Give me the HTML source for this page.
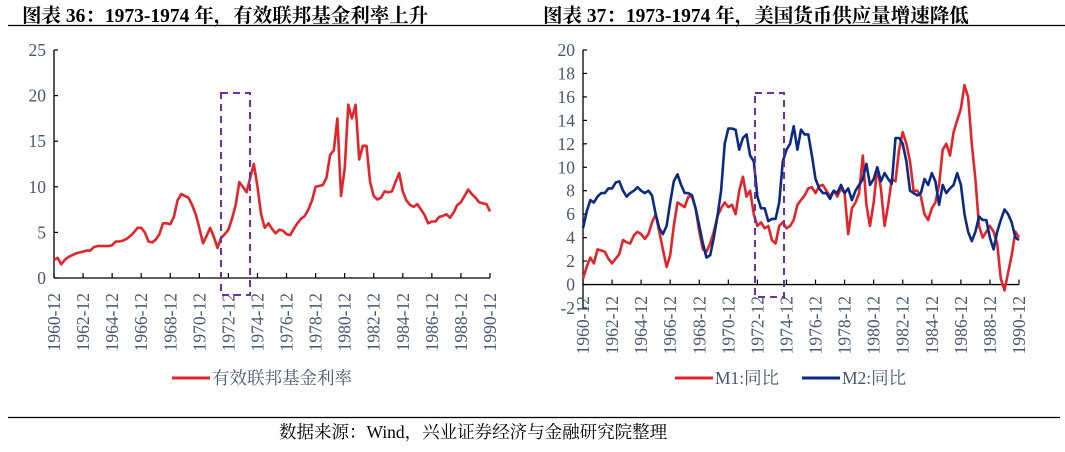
<!DOCTYPE html>
<html><head><meta charset="utf-8">
<style>
body{margin:0;background:#fff;}
#wrap{position:relative;width:1065px;height:452px;overflow:hidden;font-family:"Liberation Serif","Noto Serif CJK SC",serif;}
.title{position:absolute;top:0px;font-size:19.5px;font-weight:bold;color:#000;white-space:nowrap;letter-spacing:0px}
</style></head><body>
<div id="wrap">
<div class="title" style="left:22px">图表 36：1973-1974 年，有效联邦基金利率上升</div>
<div class="title" style="left:543px">图表 37：1973-1974 年，美国货币供应量增速降低</div>
<svg width="1065" height="452" style="position:absolute;left:0;top:0" id="svg">
<line x1="8" y1="25.5" x2="1065" y2="25.5" stroke="#000" stroke-width="1.2"/>
<line x1="8" y1="417.5" x2="1060" y2="417.5" stroke="#000" stroke-width="1.2"/>
<text x="279" y="438" font-size="17.5" font-family="Liberation Serif,Noto Serif CJK SC,serif">数据来源：Wind，兴业证券经济与金融研究院整理</text>
<g id="c1"></g>
<g id="c2"></g>
</svg>
</div>
<script>
const years = ["1960-12","1962-12","1964-12","1966-12","1968-12","1970-12","1972-12","1974-12","1976-12","1978-12","1980-12","1982-12","1984-12","1986-12","1988-12","1990-12"];
const fedTicks = [0,5,10,15,20,25];
const m2Ticks = [-2,0,2,4,6,8,10,12,14,16,18,20];
// quarterly values from 1960-12
const fedFunds = [2.0,
2.2,1.5,2.0,2.3, 2.5,2.7,2.8,2.9, 3.0,3.0,3.4,3.5, 3.5,3.5,3.5,3.6, 4.0,4.0,4.1,4.3,
4.6,5.0,5.5,5.5, 5.0,4.0,3.9,4.2, 4.8,6.0,6.0,5.9, 6.7,8.5,9.2,9.0, 8.8,8.0,7.0,5.5,
3.8,4.6,5.5,4.5, 3.3,4.4,4.8,5.3, 6.5,8.0,10.5,10.0, 9.4,11.0,12.5,10.0, 7.0,5.5,6.0,5.4,
4.9,5.3,5.2,4.8, 4.7,5.4,6.0,6.5, 6.8,7.5,8.5,10.0, 10.1,10.2,11.0,13.5, 14.0,17.5,9.0,12.0,
19.0,17.5,19.0,13.0, 14.5,14.5,10.5,9.0, 8.6,8.8,9.5,9.4, 9.5,10.5,11.5,9.5, 8.5,8.0,7.8,8.1,
7.5,6.9,6.0,6.2, 6.2,6.7,6.8,7.0, 6.6,7.2,8.0,8.3, 9.0,9.7,9.2,8.8, 8.3,8.2,8.1,7.3];
const m1 = [0.5,
1.5,2.3,1.8,3.0, 2.9,2.8,2.2,1.8, 2.2,2.6,3.8,3.6, 3.5,4.2,4.5,4.3, 3.9,4.3,5.3,6.0,
4.5,3.0,1.5,2.5, 5.0,7.0,6.8,6.6, 7.5,7.5,6.5,4.5, 3.0,2.8,3.5,4.5, 5.8,6.5,7.0,6.6,
6.8,6.0,8.0,9.2, 7.5,8.0,6.0,5.0, 5.3,4.8,5.0,3.8, 3.5,5.0,5.3,4.8, 5.0,5.5,6.8,7.2,
7.6,8.2,8.3,7.8, 8.4,8.5,8.0,7.5, 8.0,7.5,8.2,7.8, 4.3,6.5,7.0,7.8, 11.0,6.8,5.0,7.0,
10.0,8.2,5.0,6.8, 9.0,8.8,11.5,13.0, 12.0,10.5,8.0,8.0, 7.5,6.0,5.5,6.5, 7.0,8.5,11.5,12.0,
11.0,13.0,14.0,15.0, 17.0,16.0,12.0,9.0, 5.0,4.0,4.5,5.0, 4.5,3.5,0.5,-0.5, 1.0,2.5,4.5,4.0];
const m2 = [4.8,
6.2,7.2,7.0,7.5, 7.8,7.8,8.2,8.2, 8.7,8.8,8.0,7.5, 7.8,8.0,8.3,8.0, 7.8,8.0,7.6,6.0,
4.8,4.3,5.0,7.0, 8.8,9.4,8.5,7.8, 7.8,7.6,6.5,5.0, 3.5,2.3,2.5,4.0, 5.8,8.0,12.0,13.3,
13.3,13.2,11.5,12.5, 12.8,11.0,10.5,7.5, 6.5,6.5,5.4,5.6, 5.6,7.0,10.5,11.5, 12.0,13.5,11.5,13.2,
12.8,12.8,11.0,9.0, 8.2,7.8,7.8,7.3, 8.0,7.8,8.5,7.8, 8.2,7.2,8.0,8.5, 9.0,10.3,8.5,9.0,
10.0,8.8,9.5,9.0, 8.6,12.5,12.5,12.0, 10.5,8.0,7.8,7.6, 7.8,9.0,8.5,9.5, 8.8,6.8,8.5,7.8,
8.2,8.5,9.5,8.5, 6.0,4.5,3.7,4.5, 5.8,5.5,5.5,4.0, 3.0,4.5,5.5,6.4, 6.0,5.3,4.0,3.8];

const NS="http://www.w3.org/2000/svg";
function mk(parent,tag,attrs){const e=document.createElementNS(NS,tag);for(const k in attrs)e.setAttribute(k,attrs[k]);parent.appendChild(e);return e;}
const tickColor="#4a5570";

function chart(g,o){
  const xs=t=>o.x0+(o.x1-o.x0)*t/120; // quarters
  const ys=v=>o.yBase+(v-o.yMin)*(o.yTop-o.yBase)/(o.yMax-o.yMin);
  const ya=mk(g,'line',{x1:o.x0,y1:ys(o.yMin),x2:o.x0,y2:ys(o.yMax),stroke:'#000','stroke-width':1.3});
  
  
  o.ticks.forEach(v=>{
    const tl=mk(g,'line',{x1:o.x0,y1:ys(v),x2:o.x0+4,y2:ys(v),stroke:'#000','stroke-width':1.2});
    
    
    const t=mk(g,'text',{x:o.x0-8,y:ys(v)+6,'text-anchor':'end','font-size':17.5,fill:tickColor,'font-family':'Liberation Serif,serif'});
    t.textContent=v;
    
    
  });
  const y0=ys(0);
  const xa=mk(g,'line',{x1:o.x0,y1:y0,x2:o.x1,y2:y0,stroke:'#000','stroke-width':1.3});
  
  
  years.forEach((lab,i)=>{
    const x=xs(i*8);
    const tl=mk(g,'line',{x1:x,y1:y0,x2:x,y2:y0-5,stroke:'#000','stroke-width':1.2});
    
    
    const t=mk(g,'text',{x:0,y:0,'text-anchor':'end','font-size':17.5,fill:tickColor,'font-family':'Liberation Serif,serif',transform:`translate(${x+6},${o.labY}) rotate(-90)`});
    t.textContent=lab;
    
    
  });
  o.series.forEach(s=>{
    const d=s.data.map((v,i)=>(i?'L':'M')+xs(i).toFixed(1)+','+ys(v).toFixed(1)).join('');
    const p=mk(g,'path',{d:d,fill:'none',stroke:s.color,'stroke-width':2.6,'stroke-linejoin':'round'});
    
    
  });
  const b=o.box;
  const r=mk(g,'rect',{x:b[0],y:b[1],width:b[2]-b[0],height:b[3]-b[1],fill:'none',stroke:'#7030a0','stroke-width':2,'stroke-dasharray':'7,5'});
  
  
  o.legend.forEach(l=>{
    const ln=mk(g,'line',{x1:l.x,y1:378,x2:l.x+38,y2:378,stroke:l.color,'stroke-width':3});
    
    
    const t=mk(g,'text',{x:l.x+40,y:384,'font-size':17.5,fill:tickColor,'font-family':'Liberation Serif,Noto Serif CJK SC,serif'});
    t.textContent=l.label;
    
    
  });
}
chart(document.getElementById('c1'),{x0:54,x1:490,yBase:278,yTop:50,yMin:0,yMax:25,ticks:fedTicks,labY:293,
  series:[{data:fedFunds,color:'#e0262a',name:'fed-funds-line'}],box:[221,93,250,295],
  legend:[{x:172,color:'#e0262a',label:'有效联邦基金利率'}]});
chart(document.getElementById('c2'),{x0:583,x1:1019,yBase:308,yTop:50,yMin:-2,yMax:20,ticks:m2Ticks,labY:296,
  series:[{data:m1,color:'#e0262a',name:'m1-yoy-line'},{data:m2,color:'#0b2a84',name:'m2-yoy-line'}],box:[755,93,784,297],
  legend:[{x:675,color:'#e0262a',label:'M1:同比'},{x:802,color:'#0b2a84',label:'M2:同比'}]});
</script>
</body></html>
